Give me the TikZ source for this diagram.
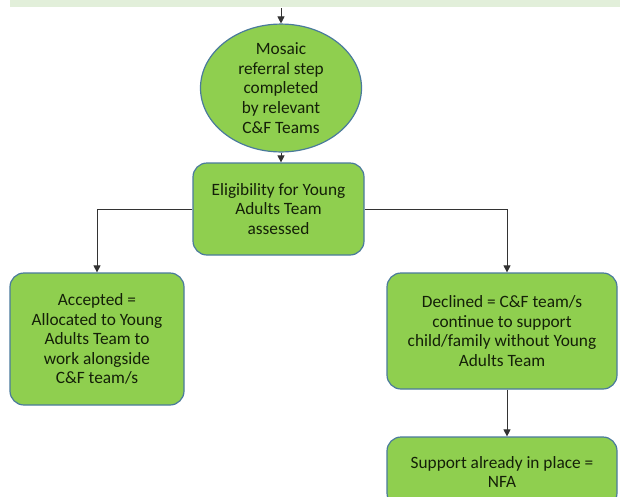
\documentclass[tikz,border=0pt]{standalone}
\usepackage{fontspec}
\setmainfont{Carlito}
\usetikzlibrary{arrows.meta,shapes.geometric}
\definecolor{boxfill}{HTML}{8FCF4F}
\definecolor{boxline}{HTML}{4A7A9C}
\definecolor{band}{HTML}{E2EFDA}
\definecolor{txt}{HTML}{142008}
\tikzset{
  x=1pt, y=-1pt,
  stepbox/.style={draw=boxline, line width=1.2pt, fill=boxfill, rounded corners=14pt,
    align=center, font=\fontsize{17.3}{19.6}\selectfont, text=txt, inner sep=0pt},
  conn/.style={draw=black!80, line width=0.8pt},
  arr/.style={conn, -{Triangle[length=7pt,width=7pt]}}
}
\begin{document}
\begin{tikzpicture}
\useasboundingbox (0,0) rectangle (620,496);
\fill[band] (10,-5) rectangle (625,7);
\coordinate (topin) at (281,8);
\node[ellipse, draw=boxline, line width=1.2pt, fill=boxfill, minimum width=161pt, minimum height=120pt,
  align=center, font=\fontsize{17.3}{19.6}\selectfont, text=txt, inner sep=0pt] (mos) at (281,88)
  {Mosaic\\referral step\\completed\\by relevant\\C\&F Teams};
\node[stepbox, minimum width=171pt, minimum height=92pt] (elig) at (278.5,209)
  {Eligibility for Young\\Adults Team\\assessed};
\node[stepbox, minimum width=174pt, minimum height=132pt] (acc) at (97,339)
  {Accepted =\\Allocated to Young\\Adults Team to\\work alongside\\C\&F team/s};
\node[stepbox, minimum width=230pt, minimum height=116pt] (dec) at (502,331)
  {Declined = C\&F team/s\\continue to support\\child/family without Young\\Adults Team};
\node[stepbox, minimum width=230pt, minimum height=70pt] (nfa) at (502,472)
  {Support already in place =\\NFA};
\draw[arr] (topin) -- (mos.north);
\draw[arr] (mos.south) -- (mos.south |- elig.north);
\draw[arr] (elig.west) -| (acc.north);
\draw[arr] (elig.east) -| ([xshift=5pt]dec.north);
\draw[arr] ([xshift=5pt]dec.south) -- ([xshift=5pt]dec.south |- nfa.north);
\end{tikzpicture}
\end{document}
